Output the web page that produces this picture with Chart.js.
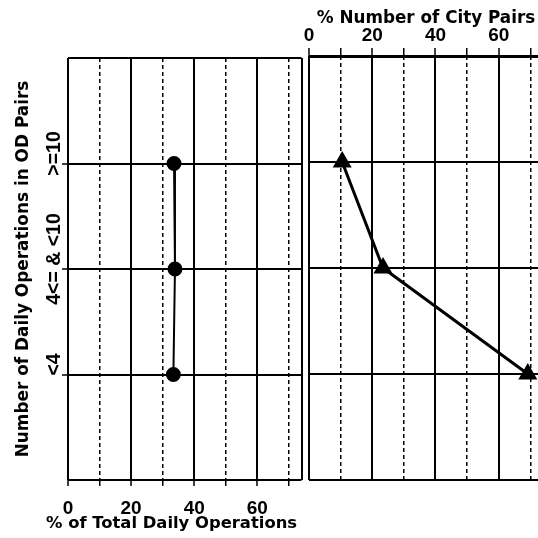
<!DOCTYPE html>
<html><head><meta charset="utf-8">
<script src="https://cdn.jsdelivr.net/npm/chart.js@4.4.1/dist/chart.umd.min.js"></script>
<style>
html,body{margin:0;padding:0;background:#fff;overflow:hidden;width:538px;height:538px;}
#wrap{position:relative;width:538px;height:538px;overflow:hidden;background:#fff;}
#c1{position:absolute;left:0;top:0;}
#c2{position:absolute;left:298px;top:0;}
</style></head><body>
<div id="wrap">
<canvas id="c1" width="313" height="538"></canvas>
<canvas id="c2" width="256" height="538"></canvas>
</div>
<script>
// ---- data ----
const categories = ['>=10', '4<= & <10', '<4'];
const pctTotalDailyOperations = [33.6, 33.9, 33.4];
const pctNumberOfCityPairs = [10.5, 23.4, 69.2];
const xTickLabelValues = [0, 20, 40, 60];
const xGridValues = [0, 10, 20, 30, 40, 50, 60, 70];
const leftXTitle = '% of Total Daily Operations';
const rightXTitle = '% Number of City Pairs';
const yTitle = 'Number of Daily Operations in OD Pairs';
const X_MAX = 74;

// ---- styles ----
const titleFamily = '"DejaVu Sans", sans-serif';
const topTitleFont = {family: titleFamily, size: 16.8, weight: 'bold', lineHeight: 1.2};
const yTitleFont = {family: titleFamily, size: 16.9, weight: 'bold', lineHeight: 1.2};
const bottomTitleFont = 'bold 16.4px ' + titleFamily;
const tickFont = {family: '"Liberation Sans", Arial, sans-serif', size: 19, weight: 'bold', lineHeight: 1.2};
const catFont = {family: '"Liberation Sans", Arial, sans-serif', size: 19.5, weight: 'bold', lineHeight: 1.2};

const mctx = document.createElement('canvas').getContext('2d');
mctx.font = 'bold 19.5px "Liberation Sans", Arial, sans-serif';
const widestCat = Math.max(...categories.map(c => mctx.measureText(c).width));

function isMajor(v) { return v % 20 === 0 || v === X_MAX; }
function xLabel(v) { return xTickLabelValues.includes(v) ? String(v) : ''; }
function tv(ctx) { return ctx && ctx.tick ? ctx.tick.value : null; }

function xGrid(tickLen, edgeWidth) {
  return {
    color: '#000',
    lineWidth: ctx => { const v = tv(ctx); if (v === null) return 1; if (v === 0 || v === X_MAX) return edgeWidth; return isMajor(v) ? 2 : 1.5; },
    tickLength: tickLen,
    tickWidth: 1.5,
    tickColor: ctx => tv(ctx) === X_MAX ? 'rgba(0,0,0,0)' : '#000'
  };
}
const xBorder = {display: false, dash: ctx => { const v = tv(ctx); return (v !== null && !isMajor(v)) ? [4, 3] : []; }};

const pointsOf = arr => categories.map((c, i) => ({x: arr[i], y: i + 1}));

// bottom axis title of the left panel, placed relative to the x scale
const bottomTitlePlugin = {
  id: 'bottomTitle',
  afterDraw(chart) {
    const s = chart.scales.x, c = chart.ctx;
    c.save();
    c.font = bottomTitleFont;
    c.fillStyle = '#000';
    c.textAlign = 'left';
    c.textBaseline = 'alphabetic';
    c.fillText(leftXTitle, s.left - 22, s.bottom - 10);
    c.restore();
  }
};

Chart.defaults.animation = false;
Chart.defaults.color = '#000';

// ---- left chart ----
new Chart(document.getElementById('c1'), {
  type: 'scatter',
  data: {datasets: [{
    data: pointsOf(pctTotalDailyOperations),
    showLine: true, borderColor: '#000', borderWidth: 2,
    pointStyle: 'circle', pointRadius: 6.5, pointBackgroundColor: '#000', pointBorderColor: '#000'
  }]},
  plugins: [bottomTitlePlugin],
  options: {
    responsive: false, devicePixelRatio: 1,
    layout: {padding: {left: 0, top: 58, right: 5, bottom: 0}},
    plugins: {legend: {display: false}, tooltip: {enabled: false}},
    scales: {
      x: {
        type: 'linear', position: 'bottom', min: 0, max: X_MAX,
        afterBuildTicks: s => { s.ticks = xGridValues.concat([X_MAX]).map(v => ({value: v})); },
        afterFit: s => { s.height = 58; },
        ticks: {callback: v => xLabel(v), font: tickFont, color: '#000', padding: 11.5, maxRotation: 0, autoSkip: false},
        title: {display: false},
        grid: xGrid(6, 2),
        border: xBorder
      },
      y: {
        type: 'linear', position: 'left', min: 0, max: categories.length + 1, reverse: true,
        afterBuildTicks: s => { s.ticks = [0].concat(categories.map((c, i) => i + 1), [categories.length + 1]).map(v => ({value: v})); },
        afterFit: s => { s.width = 68; },
        ticks: {
          callback: v => categories[v - 1] || '',
          font: catFont, color: '#000', minRotation: 90, maxRotation: 90,
          crossAlign: 'center', padding: 7 - widestCat / 2, labelOffset: -10, autoSkip: false
        },
        title: {display: true, text: yTitle, font: yTitleFont, color: '#000', padding: {top: 13, bottom: 0}},
        grid: {
          color: '#000', lineWidth: 2, tickLength: 6, tickWidth: 1.5,
          tickColor: ctx => { const v = tv(ctx); return (v === 0 || v === categories.length + 1) ? 'rgba(0,0,0,0)' : '#000'; }
        },
        border: {display: false}
      }
    }
  }
});

// ---- right chart ----
new Chart(document.getElementById('c2'), {
  type: 'scatter',
  data: {datasets: [{
    data: pointsOf(pctNumberOfCityPairs),
    showLine: true, borderColor: '#000', borderWidth: 3,
    pointStyle: 'triangle', pointRadius: 8, pointBackgroundColor: '#000', pointBorderColor: '#000'
  }]},
  options: {
    responsive: false, devicePixelRatio: 1,
    layout: {padding: {left: 6, top: 0, right: 3, bottom: 58}},
    plugins: {legend: {display: false}, tooltip: {enabled: false}},
    scales: {
      x: {
        type: 'linear', position: 'top', min: 0, max: X_MAX,
        afterBuildTicks: s => { s.ticks = xGridValues.concat([X_MAX]).map(v => ({value: v})); },
        afterFit: s => { s.height = 56; },
        ticks: {callback: v => xLabel(v), font: tickFont, color: '#000', padding: 0.5, maxRotation: 0, autoSkip: false},
        title: {display: true, text: rightXTitle, font: topTitleFont, color: '#000', padding: {top: 8.5, bottom: 0}},
        grid: xGrid(8, 2),
        border: xBorder
      },
      y: {
        type: 'linear', position: 'left', min: 0, max: categories.length + 1, reverse: true,
        afterBuildTicks: s => { s.ticks = [0].concat(categories.map((c, i) => i + 1), [categories.length + 1]).map(v => ({value: v})); },
        afterFit: s => { s.width = 0; },
        ticks: {display: false},
        grid: {color: '#000', lineWidth: ctx => tv(ctx) === 0 ? 3 : 2, drawTicks: false},
        border: {display: false}
      }
    }
  }
});
</script>
</body></html>
